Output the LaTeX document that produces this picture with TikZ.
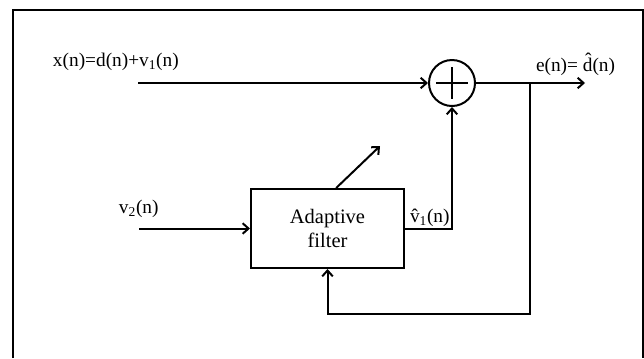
\documentclass[tikz,border=0pt]{standalone}
\usepackage{fontspec}
\setmainfont{Liberation Serif}
\usetikzlibrary{arrows.meta}

\begin{document}
\begin{tikzpicture}[x=0.03cm,y=-0.03cm,line width=1.7pt,>={Straight Barb[length=5pt,width=9pt]},
  every node/.style={font=\fontsize{16.5}{18}\selectfont},
  block/.style={draw,minimum width=4.59cm,minimum height=2.37cm,align=center,
    font=\fontsize{17.5}{20}\selectfont},
  summer/.style={draw,circle,minimum size=1.38cm,inner sep=0pt},
  sig/.style={anchor=base west,inner sep=0pt}]
  \useasboundingbox (0,0) rectangle (644,358);
  \draw[line width=1.3pt] (13,358)--(13,10)--(643,10)--(643,358);
  % blocks
  \node[summer] (sum) at (452,83) {};
  \draw (sum.center) ++(-16,0) -- ++(32,0); \draw (sum.center) ++(0,-16) -- ++(0,32);
  \node[block] (filter) at (327.5,228.5) {Adaptive\\filter};
  % signal ends
  \coordinate (xin) at (138,83); \coordinate (v2in) at (139,228.5);
  \coordinate (out) at (585,83); \coordinate (tap) at (530,83);
  \coordinate (loop) at (530,314); \coordinate (tune) at (380,146);
  % connectors
  \draw[->] (xin) -- (sum.west);
  \draw[->] (sum.east) -- (out);
  \draw[->] (v2in) -- (filter.west);
  \draw[->] (filter.east) -| (sum.south);
  \draw[->] (tap) -- (loop) -| (filter.south);
  \draw[->] ([xshift=0.26cm]filter.north) -- (tune);
  % labels
  \node[sig] (xlab) at (52,66) {x(n)=d(n)+v\textsubscript{1}(n)};
  \node[sig] (elab) at (535,71) {e(n)= \^{d}(n)};
  \node[sig] (v2lab) at (118,213) {v\textsubscript{2}(n)};
  \node[sig] (v1lab) at (409,222) {\^{v}\textsubscript{1}(n)};
\end{tikzpicture}
\end{document}
